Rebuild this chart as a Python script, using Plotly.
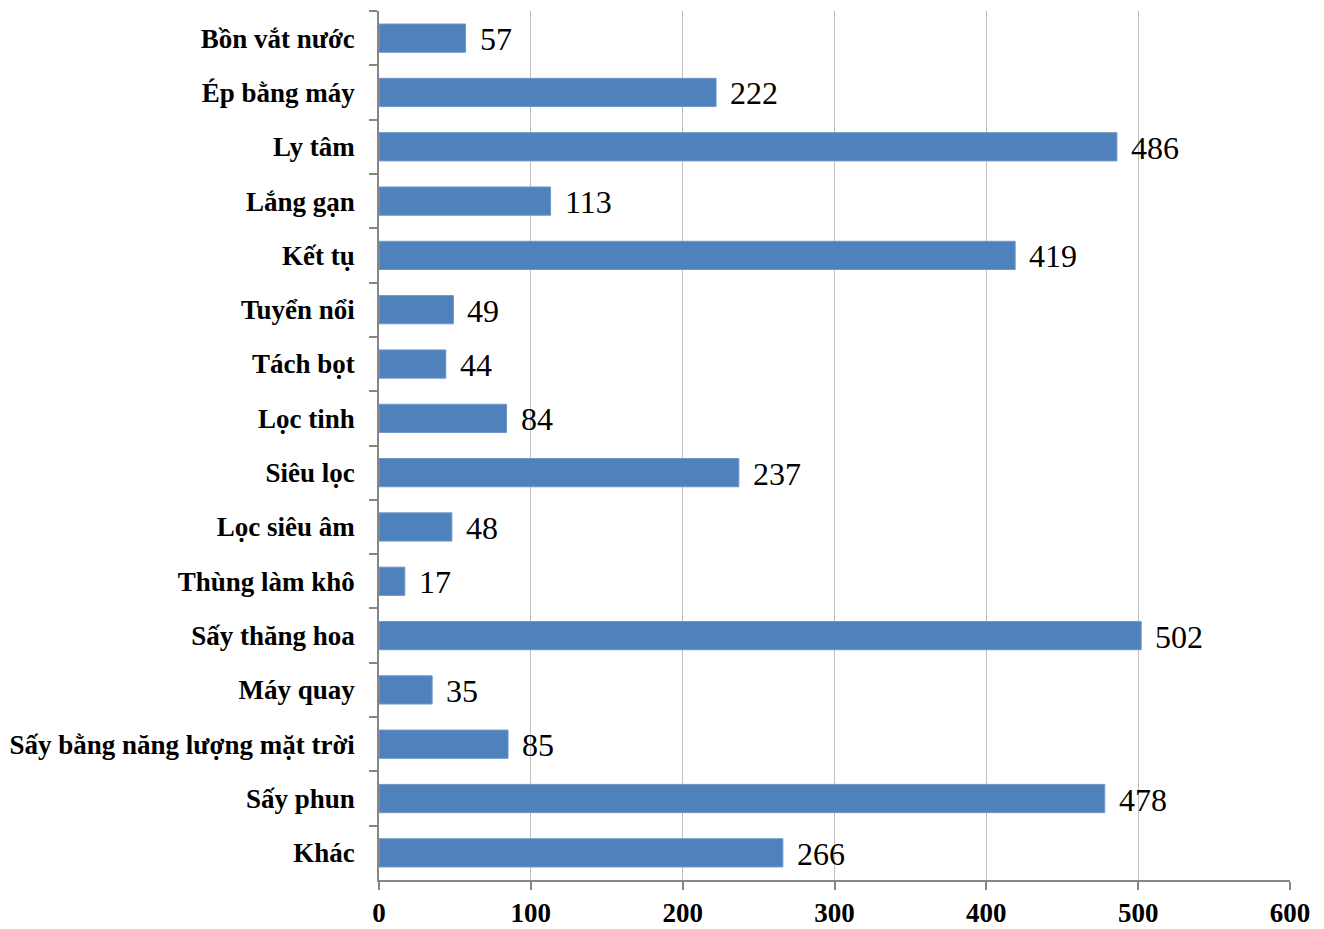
import plotly.graph_objects as go

# Categories listed top to bottom, with their counts
categories = [
    "Bồn vắt nước", "Ép bằng máy", "Ly tâm", "Lắng gạn", "Kết tụ",
    "Tuyển nổi", "Tách bọt", "Lọc tinh", "Siêu lọc", "Lọc siêu âm",
    "Thùng làm khô", "Sấy thăng hoa", "Máy quay",
    "Sấy bằng năng lượng mặt trời", "Sấy phun", "Khác",
]
values = [57, 222, 486, 113, 419, 49, 44, 84, 237, 48, 17, 502, 35, 85, 478, 266]
x_ticks = [0, 100, 200, 300, 400, 500, 600]

SERIF = "Liberation Serif, Times New Roman, serif"
AXIS_GREY = "#868686"
GRID_GREY = "#BFBFBF"
BAR_BLUE = "#4F81BD"

fig = go.Figure(
    go.Bar(
        x=values,
        y=categories,
        orientation="h",
        marker=dict(color=BAR_BLUE, line=dict(color="#6F97C9", width=1)),
        width=0.52,
        hoverinfo="x+y",
    )
)

# Value labels just past the end of each bar
for cat, val in zip(categories, values):
    fig.add_annotation(
        x=val, y=cat, text=str(val), showarrow=False,
        xanchor="left", yanchor="middle", xshift=12, yshift=-1,
        font=dict(family=SERIF, size=32, color="black"),
    )

fig.update_xaxes(
    range=[0, 600],
    tickvals=x_ticks,
    ticktext=[str(v) for v in x_ticks],
    showgrid=True, gridcolor=GRID_GREY, gridwidth=1,
    showline=True, linecolor=AXIS_GREY, linewidth=1.5,
    ticks="outside", ticklen=8, tickcolor=AXIS_GREY, tickwidth=1.5,
    tickfont=dict(family=SERIF, size=27, color="black", weight="bold"),
    zeroline=False,
    automargin=False,
    fixedrange=True,
)
fig.update_yaxes(
    autorange="reversed",
    tickson="boundaries",
    showline=True, linecolor=AXIS_GREY, linewidth=1.5,
    ticks="outside", ticklen=8, tickcolor=AXIS_GREY, tickwidth=1.5,
    ticklabelstandoff=17,
    tickfont=dict(family=SERIF, size=27, color="black", weight="bold"),
    showgrid=False,
    automargin=False,
    fixedrange=True,
)

fig.update_layout(
    width=1324, height=929,
    margin=dict(l=379, r=34, t=11, b=49, pad=0),
    plot_bgcolor="white", paper_bgcolor="white",
    showlegend=False,
    bargap=0.48,
)

fig.write_html("out.html")
